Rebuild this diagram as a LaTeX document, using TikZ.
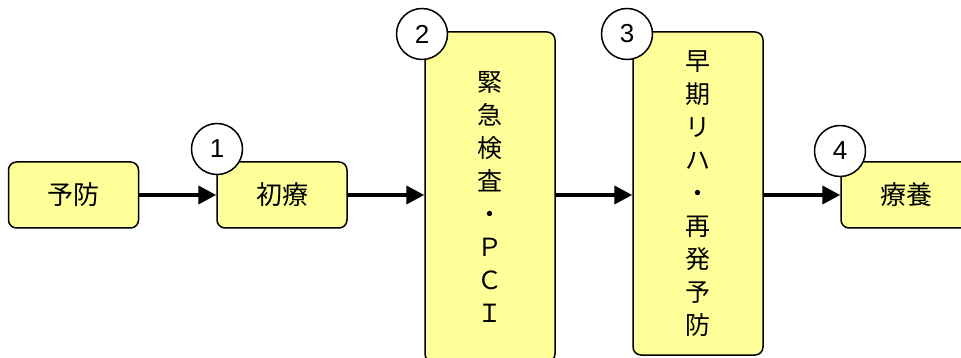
\documentclass[tikz,border=0pt]{standalone}
\usepackage{fontspec}
\setmainfont{Liberation Sans}
\newfontfamily\jp{Noto Sans CJK JP}
\usetikzlibrary{arrows.meta}
\definecolor{boxfill}{HTML}{FFFF99}
\tikzset{
  stagebox/.style={draw=black, line width=1.5pt, fill=boxfill, rounded corners=8pt,
    minimum width=130pt, inner sep=0pt, align=center,
    font=\jp\fontsize{25}{33}\selectfont},
  hbox/.style={stagebox, minimum height=66pt, font=\jp\fontsize{26}{30}\selectfont},
  numcirc/.style={circle, draw=black, line width=1.5pt, fill=white, minimum size=51pt,
    inner sep=0pt, font=\fontsize{26}{26}\selectfont},
  flow/.style={line width=4pt, -{Triangle[length=18pt,width=18pt]}}
}
\begin{document}
\begin{tikzpicture}[x=1pt,y=-1pt]
\useasboundingbox (0,0) rectangle (961,358);
\begin{scope}
\clip (0,0) rectangle (961,358);
\node[hbox] (yobo) at (73.5,195) {予防};
\node[hbox] (shoryo) at (282,195) {初療};
\node[stagebox, minimum height=330pt] (kinkyu) at (490,197) {緊\\急\\検\\査\\・\\Ｐ\\Ｃ\\Ｉ};
\node[stagebox, minimum height=323pt] (soki) at (698,193.5) {早\\期\\リ\\ハ\\・\\再\\発\\予\\防};
\node[hbox] (ryoyo) at (906,195) {療養};
\draw[flow] (yobo.east) -- (yobo.east -| shoryo.west);
\draw[flow] (shoryo.east) -- (shoryo.east -| kinkyu.west);
\draw[flow] (shoryo.east -| kinkyu.east) -- (shoryo.east -| soki.west);
\draw[flow] (ryoyo.west -| soki.east) -- (ryoyo.west);
\node[numcirc] (n1) at (217,149) {1};
\node[numcirc] (n2) at (422,34) {2};
\node[numcirc] (n3) at (627,34) {3};
\node[numcirc] (n4) at (840,151) {4};
\end{scope}
\end{tikzpicture}
\end{document}
